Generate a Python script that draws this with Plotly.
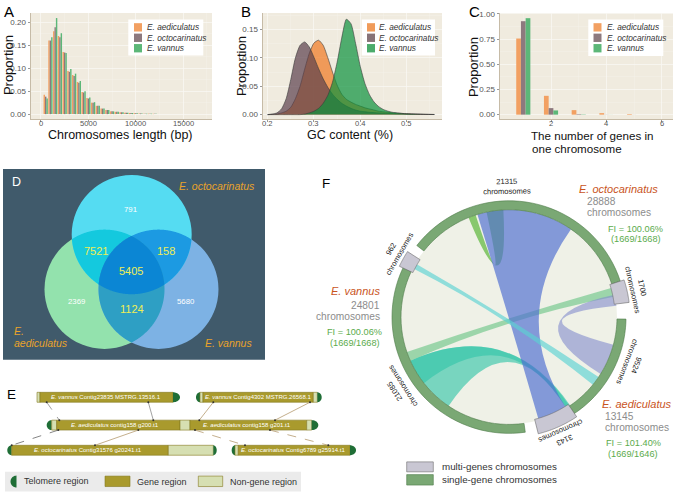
import numpy as np
import plotly.graph_objects as go

W, H = 676, 493
FONT = "Liberation Sans, Arial, Helvetica, sans-serif"

# ======================= DATA =======================
species = ["E. aediculatus", "E. octocarinatus", "E. vannus"]

# Panel A: chromosome length distribution (bin centres, bp)
len_bins = [500, 1000, 1500, 2000, 2500, 3000, 3500, 4000, 4500, 5000, 5500, 6000,
            6500, 7000, 7500, 8000, 8500, 9000, 9500, 10000, 10500, 11000, 11500, 12000]
len_aedi = [0.042, 0.160, 0.180, 0.170, 0.135, 0.094, 0.085, 0.070, 0.048, 0.035, 0.025, 0.018,
            0.012, 0.009, 0.006, 0.005, 0.004, 0.003, 0.0025, 0.002, 0.0015, 0.001, 0.001, 0.0007]
len_octo = [0.038, 0.160, 0.189, 0.167, 0.134, 0.092, 0.083, 0.068, 0.047, 0.034, 0.025, 0.018,
            0.012, 0.009, 0.006, 0.005, 0.004, 0.003, 0.0025, 0.002, 0.0015, 0.001, 0.001, 0.0007]
len_vann = [0.034, 0.167, 0.209, 0.176, 0.133, 0.098, 0.088, 0.072, 0.050, 0.036, 0.026, 0.018,
            0.012, 0.009, 0.006, 0.005, 0.004, 0.003, 0.0025, 0.002, 0.0015, 0.001, 0.001, 0.0007]
len_ticks = [0, 5000, 10000, 15000]

# Panel B: GC content density
gc_x = [0.20, 0.21, 0.22, 0.23, 0.24, 0.25, 0.26, 0.27, 0.28, 0.29, 0.30, 0.31, 0.32, 0.33,
        0.34, 0.35, 0.36, 0.37, 0.38, 0.39, 0.40, 0.41, 0.42, 0.43, 0.44, 0.45, 0.46, 0.47,
        0.48, 0.50, 0.52, 0.54, 0.56]
gc_aedi = [0.0, 0.0005, 0.001, 0.003, 0.006, 0.013, 0.028, 0.050, 0.080, 0.108, 0.126, 0.131,
           0.122, 0.100, 0.075, 0.052, 0.036, 0.027, 0.022, 0.018, 0.015, 0.012, 0.010, 0.008,
           0.006, 0.005, 0.004, 0.003, 0.0025, 0.0015, 0.001, 0.0005, 0.0002]
gc_octo = [0.0, 0.001, 0.003, 0.010, 0.028, 0.062, 0.100, 0.122, 0.128, 0.119, 0.101, 0.081,
           0.063, 0.048, 0.036, 0.027, 0.020, 0.015, 0.011, 0.008, 0.006, 0.005, 0.004, 0.0035,
           0.003, 0.0025, 0.002, 0.0018, 0.0015, 0.001, 0.0007, 0.0004, 0.0002]
gc_vann = [0.0, 0.0, 0.0, 0.0, 0.0, 0.0, 0.0, 0.0, 0.001, 0.003, 0.006, 0.011,
           0.020, 0.034, 0.057, 0.092, 0.135, 0.168, 0.160, 0.125, 0.085, 0.055, 0.035, 0.022,
           0.014, 0.009, 0.006, 0.004, 0.003, 0.0015, 0.0008, 0.0004, 0.0002]
gc_ticks = [0.2, 0.3, 0.4, 0.5]

# Panel C: number of genes per chromosome
gene_n = [1, 2, 3, 4, 5]
gene_aedi = [0.756, 0.187, 0.045, 0.015, 0.006]
gene_octo = [0.928, 0.065, 0.005, 0.001, 0.0005]
gene_vann = [0.958, 0.042, 0.003, 0.0005, 0.0]
gene_ticks = [2, 4, 6]

# Panel D: Venn counts (octo only, octo&aedi, octo&vann, all, aedi only, aedi&vann, vann only)
venn_counts = [791, 7521, 158, 5405, 2369, 1124, 5680]
venn_is_shared = [False, True, True, True, False, True, False]

# Panel E: contig segments (row, start, end, type) in diagram units
e_seg_row = [0, 0, 0,
             0, 0, 0, 0, 0,
             1, 1, 1, 1, 1, 1, 1,
             2, 2, 2, 2,
             2, 2, 2, 2]
e_seg_start = [37, 40, 173,
               196, 200, 203, 313.3, 317.3,
               46.7, 51.7, 56.7, 180, 190, 306.7, 311.7,
               7.3, 11.7, 168.3, 213.3,
               231.7, 235, 238.3, 350]
e_seg_end = [40, 173, 180,
             200, 203, 313.3, 317.3, 321.7,
             51.7, 56.7, 180, 190, 306.7, 311.7, 318.3,
             11.7, 168.3, 213.3, 216.7,
             235, 238.3, 350, 356]
e_seg_type = ["non", "gene", "telR",
              "telL", "non", "gene", "non", "telR",
              "telL", "non", "gene", "non", "gene", "non", "telR",
              "telL", "gene", "non", "telR",
              "telL", "non", "gene", "telR"]

e_gene_sp = ["E. vannus", "E. vannus", "E. aediculatus", "E. aediculatus",
             "E. octocarinatus", "E. octocarinatus"]
e_gene_id = ["Contig23835 MSTRG.13516.1", "Contig4302 MSTRG.26568.1",
             "contig158 g200.t1", "contig158 g201.t1",
             "Contig31576 g20241.t1", "Contig6789 g25914.t1"]
e_gene_row = [0, 0, 1, 1, 2, 2]
e_gene_mid = [106, 258, 115, 247, 88, 293]

e_link_row = [0, 0, 0, 0, 1, 1, 1, 1]
e_link_from = [46.7, 148.3, 213.3, 310, 58.3, 138.3, 195, 270]
e_link_to = [59.3, 153.3, 199.3, 275, 11.7, 95, 245, 328.3]
e_link_dash = ["dash", "solid", "solid", "solid", "dash", "solid", "dash", "dash"]
e_link_color = ["#8a8a8a", "#8a8a8a", "#b59a70", "#b59a70", "#666666", "#b59a70", "#b59a70", "#b59a70"]

# Panel F: circos segments (degrees clockwise from top)
f_seg_count = [21315, 1700, 9524, 3143, 21085, 962]
f_seg_type = ["single", "multi", "single", "multi", "single", "multi"]
f_seg_start = [-52, 72, 91, 146, 172, 295]
f_seg_end = [72, 83, 146, 166, 295, 303]
f_label_angle = [-1, 77.5, 111, 156, 237, -60]

f_link_a1 = [214, 232, 74, -22, -17, 297, 78]
f_link_a2 = [246, 246, 79, -18, 35, 300, 84]
f_link_b1 = [145.5, 146, 246, -12, 148, 124, 105]
f_link_b2 = [148, 148, 251, -3, 164, 129, 122]
f_link_color = ["rgba(40,195,165,0.6)", "rgba(40,195,165,0.55)", "rgba(100,195,130,0.6)",
                "rgba(110,190,80,0.8)", "rgba(80,110,210,0.68)", "rgba(90,210,210,0.65)",
                "rgba(130,140,205,0.6)"]

f_species = ["E. octocarinatus", "E. vannus", "E. aediculatus"]
f_total = [28888, 24801, 13145]
f_fi = ["FI = 100.06%", "FI = 100.06%", "FI = 101.40%"]
f_fi_ratio = ["(1669/1668)", "(1669/1668)", "(1669/1646)"]

# ======================= STYLE =======================
bar_colors = ["#f2a062", "#8d797e", "#5cb778"]
fill_colors = ["rgba(240,120,32,0.7)", "rgba(90,63,75,0.7)", "rgba(10,145,60,0.7)"]
legB_colors = ["#f09b5a", "#877378", "#4bab6b"]

fig = go.Figure()

# Panel A
a_off = [-225, -75, 75]
for i, vals in enumerate([len_aedi, len_octo, len_vann]):
    fig.add_trace(go.Bar(x=len_bins, y=vals, width=150, offset=a_off[i],
                         marker=dict(color=bar_colors[i], line=dict(width=0)),
                         name=species[i], xaxis="x", yaxis="y", hoverinfo="skip"))
# Panel B
for i, vals in enumerate([gc_aedi, gc_octo, gc_vann]):
    fig.add_trace(go.Scatter(x=gc_x, y=vals, mode="lines", fill="tozeroy",
                             fillcolor=fill_colors[i],
                             line=dict(color="#3b3b3b", width=0.6, shape="spline", smoothing=0.6),
                             name=species[i], xaxis="x2", yaxis="y2", hoverinfo="skip"))
# Panel C
c_off = [-0.255, -0.085, 0.085]
for i, vals in enumerate([gene_aedi, gene_octo, gene_vann]):
    fig.add_trace(go.Bar(x=gene_n, y=vals, width=0.17, offset=c_off[i],
                         marker=dict(color=bar_colors[i], line=dict(width=0)),
                         name=species[i], xaxis="x3", yaxis="y3", hoverinfo="skip"))
# invisible anchor trace for the pixel overlay axes
fig.add_trace(go.Scatter(x=[0, W], y=[0, H], mode="markers", marker=dict(opacity=0),
                         xaxis="x4", yaxis="y4", hoverinfo="skip"))

shapes = []
ann = []

def txt(x, y, s, size=9, color="#222", xanchor="center", angle=0, yanchor="middle", align="center"):
    ann.append(dict(x=x, y=y, xref="x4", yref="y4", text=s, showarrow=False,
                    font=dict(family=FONT, size=size, color=color), xanchor=xanchor,
                    yanchor=yanchor, textangle=angle, align=align))

def path_of(xs, ys):
    return "M " + " L ".join(f"{x:.2f},{y:.2f}" for x, y in zip(xs, ys)) + " Z"

def pshape(path, fill, line="rgba(0,0,0,0)", lw=0):
    shapes.append(dict(type="path", xref="x4", yref="y4", path=path, fillcolor=fill,
                       line=dict(color=line, width=lw), layer="above"))

def rect(x0, y0, x1, y1, fill, line="rgba(0,0,0,0)", lw=0):
    shapes.append(dict(type="rect", xref="x4", yref="y4", x0=x0, y0=y0, x1=x1, y1=y1,
                       fillcolor=fill, line=dict(color=line, width=lw), layer="above"))

# beige panels A-C
for xa, ya in [("x", "y"), ("x2", "y2"), ("x3", "y3")]:
    shapes.append(dict(type="rect", xref=f"{xa} domain", yref=f"{ya} domain", x0=0, x1=1,
                       y0=0, y1=1, fillcolor="#f0ebdf", line=dict(width=0), layer="below"))

# x tick labels placed through each subplot's own x scale
for xa, ticks, fmt in [("x", len_ticks, "{:d}"), ("x2", gc_ticks, "{:.1f}"), ("x3", gene_ticks, "{:d}")]:
    for v in ticks:
        ann.append(dict(x=v, xref=xa, y=1 - 121.5 / H, yref="paper", text=fmt.format(v),
                        showarrow=False, font=dict(family=FONT, size=7.6, color="#555"),
                        xanchor="center", yanchor="middle"))

# legends A-C
leg_specs = [(128.3, 16.7, 203.3, 52.7, 134, 145, bar_colors),
             (361.7, 16.7, 435, 52.7, 367, 377, legB_colors),
             (588.3, 16.7, 663.3, 53.3, 593.5, 604.5, bar_colors)]
for (x0, y0, x1, y1, sx, tx, cols) in leg_specs:
    rect(x0, y0, x1, y1, "white")
    for k, ry in enumerate([24.5, 35, 45.5]):
        rect(sx, ry - 4.2, sx + 8, ry + 4.2, cols[k])
        txt(tx, ry, f"<i>{species[k]}</i>", size=8.3, color="#333", xanchor="left")

# axis titles and panel letters
txt(8.5, 63, "Proportion", size=13, color="#111", angle=-90)
txt(120, 133, "Chromosomes length (bp)", size=12.5, color="#111")
txt(241.5, 64, "Proportion", size=13, color="#111", angle=-90)
txt(350, 133, "GC content (%)", size=12.5, color="#111")
txt(473.5, 65, "Proportion", size=13, color="#111", angle=-90)
txt(529, 133, "The number of genes in", size=11.6, color="#111", xanchor="left")
txt(530, 146, "one chromosome", size=11.6, color="#111", xanchor="left")
txt(2, 9, "A", size=15, color="#000", xanchor="left")
txt(239, 9, "B", size=15, color="#000", xanchor="left")
txt(467, 9, "C", size=15, color="#000", xanchor="left")

# ---------------- Panel D: Venn ----------------
rect(3, 167, 265, 359, "#405a6b")
vcx = [131.7, 104.5, 158.5]   # top (octo), left (aedi), right (vann)
vcy = [233.0, 288.0, 288.0]
vr = 60.0
base_cols = ["#55dcf2", "#93e2ad", "#7db2e4"]

def inter_pts(ids):
    pts = []
    t = np.linspace(0, 2 * np.pi, 1081)
    for i in ids:
        x = vcx[i] + vr * np.cos(t)
        y = vcy[i] + vr * np.sin(t)
        m = np.ones_like(t, dtype=bool)
        for j in ids:
            if j != i:
                m &= (x - vcx[j]) ** 2 + (y - vcy[j]) ** 2 <= vr ** 2 + 1e-6
        pts += list(zip(x[m], y[m]))
    pts = np.array(pts)
    c = pts.mean(axis=0)
    order = np.argsort(np.arctan2(pts[:, 1] - c[1], pts[:, 0] - c[0]))
    return pts[order]

for i in [1, 2, 0]:
    shapes.append(dict(type="circle", xref="x4", yref="y4", x0=vcx[i] - vr, x1=vcx[i] + vr,
                       y0=vcy[i] - vr, y1=vcy[i] + vr, fillcolor=base_cols[i],
                       line=dict(width=0), layer="above"))
for ids, col in [((0, 1), "#14c9de"), ((0, 2), "#1c9ae2"), ((1, 2), "#2e9fc4"), ((0, 1, 2), "#0b86d4")]:
    p = inter_pts(ids)
    pshape(path_of(p[:, 0], p[:, 1]), col)

venn_pos = [(130, 207.7), (96, 250), (165.7, 250), (130.7, 269.3), (76, 300), (131.7, 307.7), (185.7, 300)]
for (x, y), cnt, sh in zip(venn_pos, venn_counts, venn_is_shared):
    txt(x, y, str(cnt), size=11 if sh else 7.8, color="#eeee55" if sh else "white")
txt(10, 180, "D", size=12.5, color="white", xanchor="left")
txt(176.5, 184, "<i>E. octocarinatus</i>", size=10.5, color="#e9a32a", xanchor="left")
txt(12, 330, "<i>E.</i>", size=10.5, color="#e9a32a", xanchor="left")
txt(12, 342, "<i>aediculatus</i>", size=10.5, color="#e9a32a", xanchor="left")
txt(203, 342, "<i>E. vannus</i>", size=10.5, color="#e9a32a", xanchor="left")

# ---------------- Panel E: contigs ----------------
rows_y = [396.7, 424.7, 450.0]
hh = 5.0
GENE, GENE_L, NON, TEL = "#a99a2d", "#857820", "#d6dfb2", "#1f6e36"

def cap(s, e, yc, side, ry=5.0):
    t = np.linspace(-np.pi / 2, np.pi / 2, 25)
    if side == "R":
        xs = s + (e - s) * np.cos(t)
    else:
        xs = e - (e - s) * np.cos(t)
    ys = yc + ry * np.sin(t)
    return path_of(xs, ys)

for r, s, e, tp in zip(e_seg_row, e_seg_start, e_seg_end, e_seg_type):
    yc = rows_y[r]
    if tp == "gene":
        rect(s, yc - hh, e, yc + hh, GENE, GENE_L, 0.6)
    elif tp == "non":
        rect(s, yc - hh, e, yc + hh, NON, GENE_L, 0.6)
    elif tp == "telL":
        pshape(cap(s, e, yc, "L"), TEL)
    else:
        pshape(cap(s, e, yc, "R"), TEL)

for sp, gid, r, xm in zip(e_gene_sp, e_gene_id, e_gene_row, e_gene_mid):
    txt(xm, rows_y[r], f"<i>{sp}</i> {gid}", size=6, color="white")

for r, x0, x1, d, c in zip(e_link_row, e_link_from, e_link_to, e_link_dash, e_link_color):
    y0 = rows_y[r] + hh
    y1 = rows_y[r + 1] - hh
    shapes.append(dict(type="line", xref="x4", yref="y4", x0=x0, y0=y0, x1=x1, y1=y1,
                       line=dict(color=c, width=0.8, dash=d), layer="above"))
    for (px, py) in [(x0, y0), (x1, y1)]:
        shapes.append(dict(type="circle", xref="x4", yref="y4", x0=px - 1, x1=px + 1,
                           y0=py - 1, y1=py + 1, fillcolor="#333", line=dict(width=0), layer="above"))

txt(5, 394, "E", size=13.5, color="#000", xanchor="left")
rect(5, 471.5, 301, 491.5, "#ebebeb")
pshape(cap(10.5, 16.5, 481.5, "L", 6), TEL)
txt(21.5, 480.5, "Telomere region", size=9, color="#333", xanchor="left")
rect(105, 476, 130, 486.5, GENE, GENE_L, 0.6)
txt(135, 481.5, "Gene region", size=9, color="#333", xanchor="left")
rect(198.3, 476, 222.7, 486.5, NON, GENE_L, 0.6)
txt(228.3, 481.5, "Non-gene region", size=9, color="#333", xanchor="left")

# ---------------- Panel F: circos ----------------
fx, fy = 509.0, 316.0
R_OUT, R_IN = 117.0, 108.0

def arc(a1, a2, r, n=40):
    t = np.radians(np.linspace(a1, a2, n))
    return fx + r * np.sin(t), fy - r * np.cos(t)

shapes.append(dict(type="circle", xref="x4", yref="y4", x0=fx - R_IN, x1=fx + R_IN,
                   y0=fy - R_IN, y1=fy + R_IN, fillcolor="#eff1e7", line=dict(width=0), layer="above"))

for a1, a2, b1, b2, col in zip(f_link_a1, f_link_a2, f_link_b1, f_link_b2, f_link_color):
    ax_, ay_ = arc(a1, a2, R_IN)
    bx_, by_ = arc(b1, b2, R_IN)
    s = f"M {ax_[0]:.2f},{ay_[0]:.2f}"
    s += "".join(f" L {x:.2f},{y:.2f}" for x, y in zip(ax_[1:], ay_[1:]))
    s += f" Q {fx:.2f},{fy:.2f} {bx_[0]:.2f},{by_[0]:.2f}"
    s += "".join(f" L {x:.2f},{y:.2f}" for x, y in zip(bx_[1:], by_[1:]))
    s += f" Q {fx:.2f},{fy:.2f} {ax_[0]:.2f},{ay_[0]:.2f} Z"
    pshape(s, col)

for cnt, tp, a1, a2, la in zip(f_seg_count, f_seg_type, f_seg_start, f_seg_end, f_label_angle):
    r0, r1 = (R_IN, R_OUT) if tp == "single" else (R_IN - 2, R_OUT + 4)
    ox, oy = arc(a1, a2, r1)
    ix, iy = arc(a2, a1, r0)
    fill, line = ("#7aa874", "#4d7a48") if tp == "single" else ("#c9c7d3", "#6b6b6b")
    pshape(path_of(np.r_[ox, ix], np.r_[oy, iy]), fill, line, 0.6)
    t = np.radians(la)
    lx, ly = fx + 131 * np.sin(t), fy - 131 * np.cos(t)
    ang = ((la + 180) % 360) - 180
    txt(lx, ly, f"{cnt}<br>chromosomes", size=7.6, color="#222", angle=ang)

ORG, GRY, GRN = "#c9541d", "#8c8c8c", "#5bab4c"
# E. octocarinatus block
txt(577, 187, f"<i>{f_species[0]}</i>", size=11, color=ORG, xanchor="left")
txt(585, 199.5, str(f_total[0]), size=10.2, color=GRY, xanchor="left")
txt(585, 211, "chromosomes", size=10.2, color=GRY, xanchor="left")
txt(635, 227, f_fi[0], size=9.2, color=GRN)
txt(635.5, 237.5, f_fi_ratio[0], size=9.2, color=GRN)
# E. vannus block
txt(382, 290, f"<i>{f_species[1]}</i>", size=11, color=ORG, xanchor="right")
txt(382, 304, str(f_total[1]), size=10.2, color=GRY, xanchor="right")
txt(382, 315.5, "chromosomes", size=10.2, color=GRY, xanchor="right")
txt(354.5, 331.5, f_fi[1], size=9.2, color=GRN)
txt(354.5, 342, f_fi_ratio[1], size=9.2, color=GRN)
# E. aediculatus block
txt(600, 403, f"<i>{f_species[2]}</i>", size=11, color=ORG, xanchor="left")
txt(603, 416, str(f_total[2]), size=10.2, color=GRY, xanchor="left")
txt(603, 427.5, "chromosomes", size=10.2, color=GRY, xanchor="left")
txt(633, 443, f_fi[2], size=9.2, color=GRN)
txt(633, 453.5, f_fi_ratio[2], size=9.2, color=GRN)

txt(326, 182, "F", size=13.5, color="#000")
rect(406.7, 461.7, 433.3, 471.7, "#c9c7d3", "#6b6b6b", 0.6)
txt(440, 466.5, "multi-genes chromosomes", size=9.8, color="#333", xanchor="left")
rect(406.7, 474.5, 433.3, 485, "#7aa874", "#4d7a48", 0.6)
txt(440, 479.5, "single-gene chromosomes", size=9.8, color="#333", xanchor="left")

# ======================= LAYOUT =======================
def dx(a, b):
    return [a / W, b / W]

def dy(a, b):
    return [1 - b / H, 1 - a / H]

def axstyle(**kw):
    d = dict(showline=True, linecolor="#c6bba7", linewidth=1.5, ticks="outside", ticklen=2,
             tickcolor="#555", tickwidth=0.6, tickfont=dict(size=8, color="#555", family=FONT),
             showgrid=True, gridcolor="#f9f7f2", gridwidth=0.8, zeroline=False, fixedrange=True)
    d.update(kw)
    return d

fig.update_layout(
    width=W, height=H, margin=dict(l=0, r=0, t=0, b=0),
    paper_bgcolor="white", plot_bgcolor="rgba(0,0,0,0)",
    showlegend=False, barmode="overlay",
    font=dict(family=FONT),
    xaxis=axstyle(domain=dx(31, 212), range=[-1050, 18040], anchor="y", tick0=0, dtick=5000,
                  showticklabels=False,
                  minor=dict(dtick=2500, showgrid=True, gridcolor="#f5f2ea", gridwidth=0.4)),
    yaxis=axstyle(domain=dy(10, 116.7), range=[-0.0106, 0.2201], anchor="x", tick0=0, dtick=0.05,
                  tickformat=".2f",
                  minor=dict(dtick=0.025, showgrid=True, gridcolor="#f5f2ea", gridwidth=0.4)),
    xaxis2=axstyle(domain=dx(263, 442), range=[0.19, 0.5765], anchor="y2", tick0=0, dtick=0.1,
                   showticklabels=False,
                   minor=dict(dtick=0.05, showgrid=True, gridcolor="#f5f2ea", gridwidth=0.4)),
    yaxis2=axstyle(domain=dy(10, 116.7), range=[-0.0077, 0.179], anchor="x2", tick0=0, dtick=0.05,
                   tickformat=".2f",
                   minor=dict(dtick=0.025, showgrid=True, gridcolor="#f5f2ea", gridwidth=0.4)),
    xaxis3=axstyle(domain=dx(500, 673), range=[0.16, 6.4], anchor="y3", tick0=0, dtick=2,
                   showticklabels=False,
                   minor=dict(dtick=1, showgrid=True, gridcolor="#f5f2ea", gridwidth=0.4)),
    yaxis3=axstyle(domain=dy(10, 116.7), range=[-0.043, 1.01], anchor="x3", tick0=0, dtick=0.25,
                   tickformat=".2f",
                   minor=dict(dtick=0.125, showgrid=True, gridcolor="#f5f2ea", gridwidth=0.4)),
    xaxis4=dict(domain=[0, 1], range=[0, W], visible=False, fixedrange=True, anchor="y4"),
    yaxis4=dict(domain=[0, 1], range=[H, 0], visible=False, fixedrange=True, anchor="x4"),
    shapes=shapes, annotations=ann,
)

fig.write_html("out.html", config={"displayModeBar": False, "staticPlot": True},
               post_script="document.body.style.margin='0px';document.body.style.padding='0px';"
                           "document.body.style.overflow='hidden';")
